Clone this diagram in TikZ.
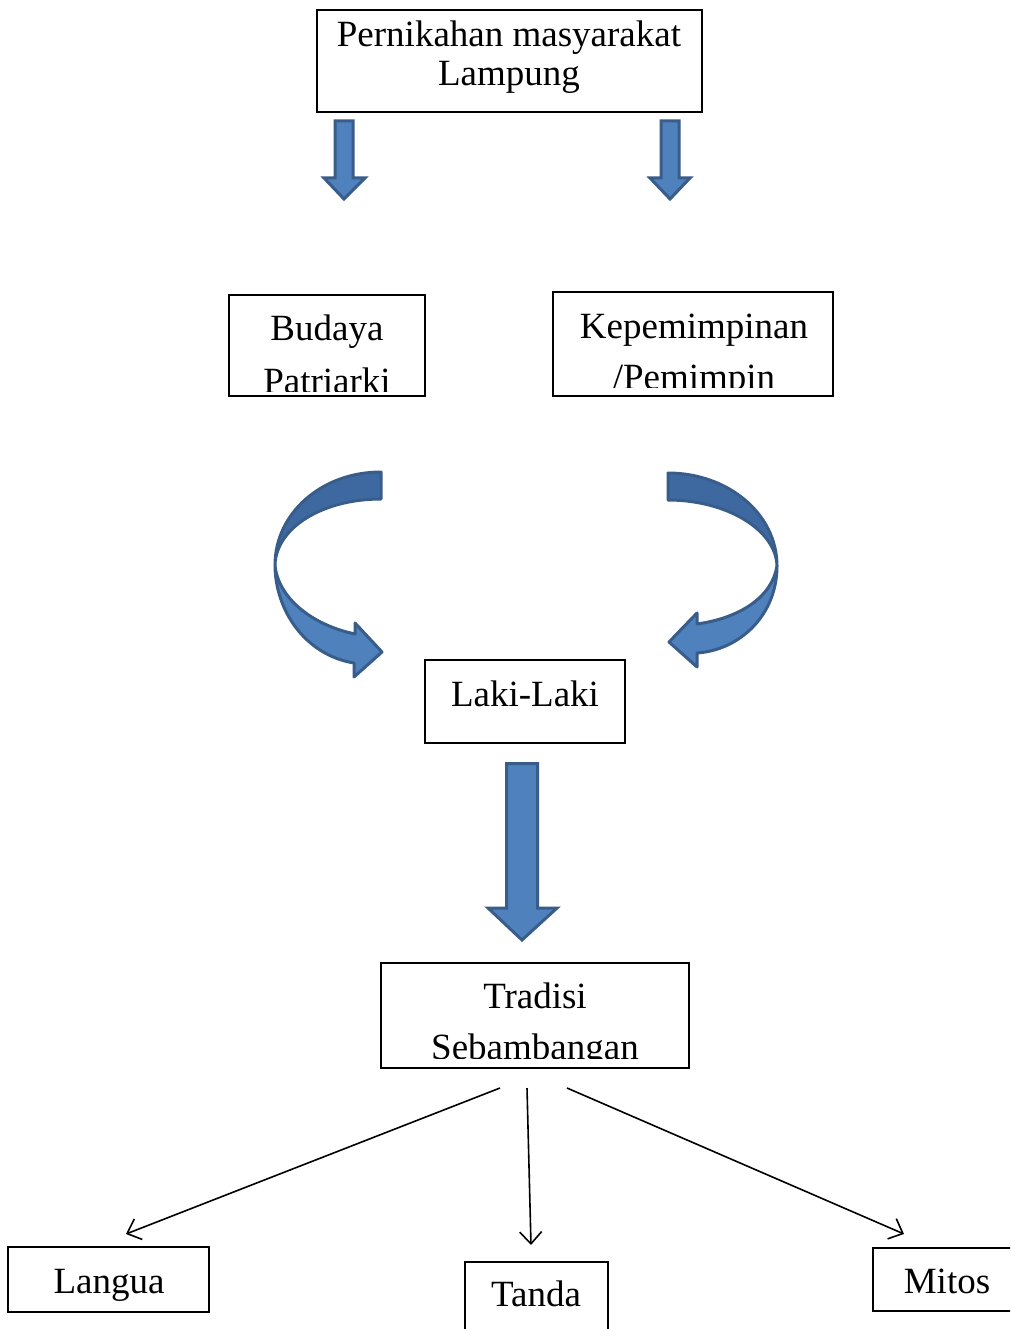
\documentclass[tikz,border=0pt]{standalone}
\usepackage{fontspec}
\setmainfont{Liberation Serif}
\usetikzlibrary{arrows.meta}
\definecolor{blk}{HTML}{4F81BD}
\definecolor{blkdark}{HTML}{3E69A0}
\definecolor{blkline}{HTML}{385D8A}
\tikzset{
 box/.style={draw=black, line width=1.3pt, inner sep=0pt},
 txt/.style={anchor=base, inner sep=0pt, font=\fontsize{37}{44}\selectfont},
 blockarrow/.style={fill=blk, draw=blkline, line width=3pt, line join=miter},
 bandback/.style={fill=blkdark, draw=blkline, line width=3pt, line join=round},
 bandfront/.style={fill=blk, draw=blkline, line width=3pt, line join=round},
 thinarrow/.style={line width=1.6pt, -{Straight Barb[length=12pt,width=22pt]}}
}
\begin{document}
\begin{tikzpicture}[x=1pt,y=-1pt]
\clip (0,0) rectangle (1010,1329);
\fill[white] (0,0) rectangle (1010,1329);

% boxes
\node[box, line width=2pt, minimum width=385pt, minimum height=102pt] (top) at (509.5,61) {};
\node[box, minimum width=196pt, minimum height=101pt] (budaya) at (327,345.5) {};
\node[box, minimum width=280pt, minimum height=104pt] (kepem) at (693,344) {};
\node[box, minimum width=200pt, minimum height=83pt] (laki) at (525,701.5) {};
\node[box, minimum width=308pt, minimum height=105pt] (tradisi) at (535,1015.5) {};
\node[box, minimum width=201pt, minimum height=65pt] (langua) at (108.5,1279.5) {};
\node[box, minimum width=143pt, minimum height=78pt] (tanda) at (536.5,1301) {};
\node[box, minimum width=157pt, minimum height=63pt] (mitos) at (951.5,1279.5) {};

% texts
\node[txt] (t1a) at (509,47) {Pernikahan masyarakat};
\node[txt] (t1b) at (509,86) {Lampung};
\node[txt] (t2a) at (327,340) {Budaya};
\begin{scope}
\clip (230,296) rectangle (424,391);
\node[txt] (t2b) at (327,393) {Patriarki};
\end{scope}
\node[txt] (t3a) at (694,338) {Kepemimpinan};
\begin{scope}
\clip (554,293) rectangle (832,387);
\node[txt] (t3b) at (694,389) {/Pemimpin};
\end{scope}
\node[txt] (t4) at (525,706) {Laki-Laki};
\node[txt] (t5a) at (535,1008) {Tradisi};
\begin{scope}
\clip (382,964) rectangle (688,1058);
\node[txt] (t5b) at (535,1059) {Sebambangan};
\end{scope}
\node[txt] (t6) at (109,1293) {Langua};
\node[txt] (t7) at (536,1306) {Tanda};
\node[txt] (t8) at (947,1293) {Mitos};

% straight block arrows
\draw[blockarrow] (335,121) -- (353,121) -- (353,178) -- (365,178) -- (344,199) -- (324,178) -- (335,178) -- cycle;
\draw[blockarrow] (661,121) -- (679,121) -- (679,178) -- (690,178) -- (670,199) -- (650,178) -- (661,178) -- cycle;
\draw[blockarrow] (506.5,763.5) -- (537.5,763.5) -- (537.5,908) -- (557,908) -- (522,940) -- (488,908) -- (506.5,908) -- cycle;

% left curved arrow
\draw[bandback] (381,472) -- (381,499) .. controls (322,499) and (276,528) .. (275,565)
  .. controls (275,513) and (322,472) .. (381,472) -- cycle;
\draw[bandfront] (275,565) .. controls (275,610) and (305,655) .. (354,663) -- (354,677) -- (382,652)
  -- (355,623) -- (355,634) .. controls (312,625) and (278,598) .. (275,565) -- cycle;

% right curved arrow
\draw[bandback] (668,473) -- (668,500) .. controls (727,500) and (776,530) .. (777,566)
  .. controls (777,513) and (727,473) .. (668,473) -- cycle;
\draw[bandfront] (777,566) .. controls (777,615) and (740,650) .. (697,653) -- (697,667) -- (669,642)
  -- (697,613) -- (697,624) .. controls (740,618) and (772,597) .. (777,566) -- cycle;

% thin arrows
\coordinate (s1) at (500,1088);
\coordinate (s2) at (527,1088);
\coordinate (s3) at (567,1088);
\coordinate (e1) at (126,1234);
\coordinate (e2) at (531,1245);
\coordinate (e3) at (904,1234);
\draw[thinarrow] (s1) -- (e1);
\draw[thinarrow] (s2) -- (e2);
\draw[thinarrow] (s3) -- (e3);
\end{tikzpicture}
\end{document}
